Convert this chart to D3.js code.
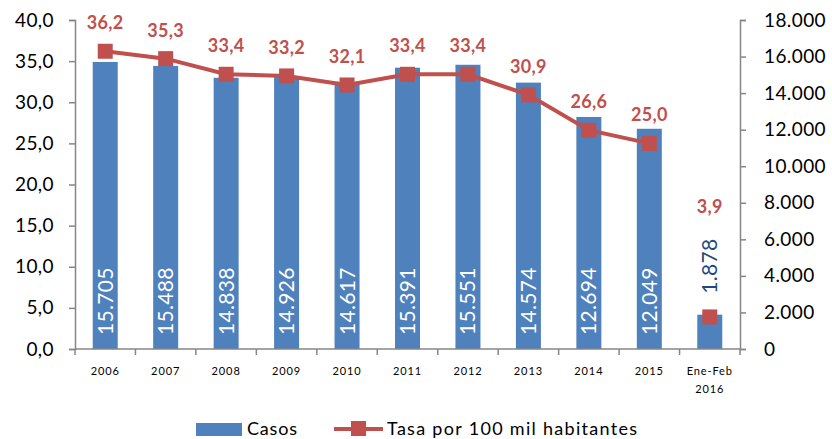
<!DOCTYPE html>
<html><head><meta charset="utf-8">
<script src="https://cdn.jsdelivr.net/npm/d3@7"></script>
<style>body{margin:0;background:#fff;}svg{display:block;font-family:Lato,"Open Sans",sans-serif;}</style>
</head><body>
<svg id="c" width="832" height="439"></svg>
<script>
const categories = ["2006","2007","2008","2009","2010","2011","2012","2013","2014","2015","Ene-Feb\n2016"];
const casos = [15705,15488,14838,14926,14617,15391,15551,14574,12694,12049,1878];
const tasa = [36.2,35.3,33.4,33.2,32.1,33.4,33.4,30.9,26.6,25.0,3.9];
const leftTicks = [0,5,10,15,20,25,30,35,40];
const rightTicks = [0,2000,4000,6000,8000,10000,12000,14000,16000,18000];
const seriesNames = ["Casos","Tasa por 100 mil habitantes"];

const barColor = "#4f81bd", lineColor = "#c0504d", axisColor = "#868686";
const svg = d3.select("#c");
const L = 75, R = 740, T = 20, B = 349;

const x = d3.scaleBand().domain(categories).range([L, R]);
const yL = d3.scaleLinear().domain([0,40]).range([B, T]);
const yR = d3.scaleLinear().domain([0,18000]).range([B, T]);
const fmtL = v => d3.format(".1f")(v).replace(".", ",");
const fmtR = v => v === 0 ? "0" : d3.format(",")(v).replace(/,/g, ".");

// left axis
const gl = svg.append("g").attr("transform", `translate(${L},0)`)
  .call(d3.axisLeft(yL).tickValues(leftTicks).tickFormat(fmtL).tickSize(6).tickPadding(15));
// right axis
const gr = svg.append("g").attr("transform", `translate(${R},0)`)
  .call(d3.axisRight(yR).tickValues(rightTicks).tickFormat(fmtR).tickSize(6).tickPadding(18));
[gl, gr].forEach(g => {
  g.select(".domain").attr("stroke", axisColor).attr("stroke-width", 1.5);
  g.selectAll(".tick line").attr("stroke", axisColor).attr("stroke-width", 1.5);
  g.selectAll(".tick text").attr("fill", "#000").style("font-size", "19px")
    .style("letter-spacing", "0.4px").style("font-family", "Lato, sans-serif");
});

// bars
svg.append("g").selectAll("rect").data(categories).join("rect")
  .attr("x", (d,i) => x(d) + x.bandwidth()/2 - 12.5)
  .attr("width", 25)
  .attr("y", (d,i) => yR(casos[i]))
  .attr("height", (d,i) => B - yR(casos[i]))
  .attr("fill", barColor);

// bottom axis
svg.append("line").attr("x1", L).attr("x2", R).attr("y1", B).attr("y2", B)
  .attr("stroke", axisColor).attr("stroke-width", 1.5);
const tickPos = categories.map(d => x(d)).concat([R]);
svg.append("g").selectAll("line").data(tickPos).join("line")
  .attr("x1", d => d).attr("x2", d => d).attr("y1", B).attr("y2", B + 6)
  .attr("stroke", axisColor).attr("stroke-width", 1.5);
const xl = svg.append("g").selectAll("text").data(categories).join("text")
  .attr("x", d => x(d) + x.bandwidth()/2)
  .attr("y", 375)
  .attr("text-anchor", "middle")
  .style("font-size", "11px").style("letter-spacing", "0.9px")
  .attr("fill", "#000");
xl.each(function(d){
  const parts = d.split("\n");
  d3.select(this).selectAll("tspan").data(parts).join("tspan")
    .attr("x", x(d) + x.bandwidth()/2).attr("dy", (p,j) => j === 0 ? 0 : 18).text(p => p);
});

// bar value labels
svg.append("g").selectAll("text").data(categories).join("text")
  .attr("transform", (d,i) => {
    const cx = x(d) + x.bandwidth()/2 + 7.5;
    const inside = casos[i] > 4000;
    const yy = inside ? 335 : yR(casos[i]) - 21;
    return `translate(${cx},${yy}) rotate(-90)`;
  })
  .attr("text-anchor", "start")
  .style("font-size", "21px").style("font-weight", "normal").style("letter-spacing", "0.3px")
  .attr("fill", (d,i) => casos[i] > 4000 ? "#fff" : "#1f497d")
  .text((d,i) => fmtR(casos[i]));

// line
const cx = d => x(d) + x.bandwidth()/2;
const lineData = categories.slice(0, 10).map((d,i) => [cx(d), yL(tasa[i])]);
svg.append("path").datum(lineData).attr("d", d3.line())
  .attr("fill", "none").attr("stroke", lineColor).attr("stroke-width", 4);
svg.append("g").selectAll("rect").data(categories).join("rect")
  .attr("x", d => cx(d) - 7.5).attr("y", (d,i) => yL(tasa[i]) - 7.5)
  .attr("width", 15).attr("height", 15).attr("fill", lineColor);

// line labels
svg.append("g").selectAll("text").data(categories).join("text")
  .attr("x", d => cx(d))
  .attr("y", (d,i) => i === 10 ? 213 : yL(tasa[i]) - 22)
  .attr("text-anchor", "middle")
  .style("font-size", "18px").style("font-weight", "bold").style("letter-spacing", "0.3px")
  .attr("fill", lineColor)
  .text((d,i) => fmtL(tasa[i]));

// legend
const lg = svg.append("g");
lg.append("rect").attr("x", 196).attr("y", 423).attr("width", 46).attr("height", 13).attr("fill", barColor);
lg.append("text").attr("x", 247).attr("y", 435).style("font-size", "18px").style("letter-spacing", "0.8px").text(seriesNames[0]);
lg.append("line").attr("x1", 334).attr("x2", 383).attr("y1", 429).attr("y2", 429).attr("stroke", lineColor).attr("stroke-width", 4);
lg.append("rect").attr("x", 351).attr("y", 421).attr("width", 15).attr("height", 15).attr("fill", lineColor);
lg.append("text").attr("x", 387).attr("y", 435).style("font-size", "18px").style("letter-spacing", "1.3px").text(seriesNames[1]);
</script>
</body></html>
